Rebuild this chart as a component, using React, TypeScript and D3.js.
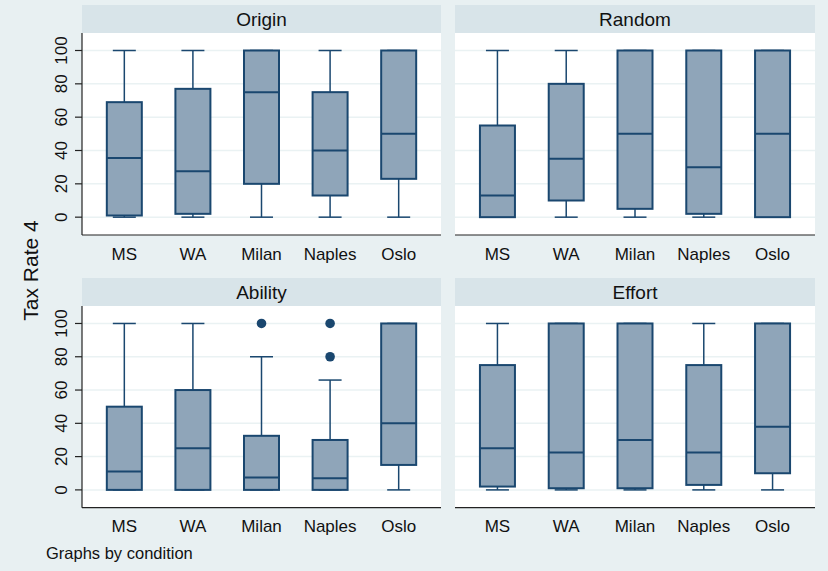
import React from "react";
import * as d3 from "d3";

const categories = ["MS", "WA", "Milan", "Naples", "Oslo"];
const panelTitles = ["Origin", "Random", "Ability", "Effort"];
const yTicks = [0, 20, 40, 60, 80, 100];

// per panel, per category: [min, q1, median, q3, max]
const originStats = [
  [0, 1, 35.5, 69, 100],
  [0, 2, 27.5, 77, 100],
  [0, 20, 75, 100, 100],
  [0, 13, 40, 75, 100],
  [0, 23, 50, 100, 100],
];
const randomStats = [
  [0, 0, 13, 55, 100],
  [0, 10, 35, 80, 100],
  [0, 5, 50, 100, 100],
  [0, 2, 30, 100, 100],
  [0, 0, 50, 100, 100],
];
const abilityStats = [
  [0, 0, 11, 50, 100],
  [0, 0, 25, 60, 100],
  [0, 0, 7.5, 32.5, 80],
  [0, 0, 7, 30, 66],
  [0, 15, 40, 100, 100],
];
const effortStats = [
  [0, 2, 25, 75, 100],
  [0, 1, 22.5, 100, 100],
  [0, 1, 30, 100, 100],
  [0, 3, 22.5, 75, 100],
  [0, 10, 38, 100, 100],
];
const originOutliers: number[][] = [[], [], [], [], []];
const randomOutliers: number[][] = [[], [], [], [], []];
const abilityOutliers: number[][] = [[], [], [100], [100, 80], []];
const effortOutliers: number[][] = [[], [], [], [], []];

const allStats = [originStats, randomStats, abilityStats, effortStats];
const allOutliers = [originOutliers, randomOutliers, abilityOutliers, effortOutliers];

const BG = "#e8f0f2";
const STRIP = "#d8e4e9";
const FILL = "#8fa5b9";
const NAVY = "#1a476f";
const GRID = "#eaf2f3";
const FONT = "'Liberation Sans', Arial, Helvetica, sans-serif";

const colX = [[82, 441], [455, 815]];
const rowY = [[33, 235], [306, 507.7]];
const STRIP_H = 28;

function Panel({ idx }: { idx: number }) {
  const col = idx % 2;
  const row = Math.floor(idx / 2);
  const [x0, x1] = colX[col];
  const [y0, y1] = rowY[row];
  const x = d3.scalePoint<string>().domain(categories).range([x0, x1]).padding(0.617);
  const y = d3.scaleLinear().domain([-10.7, 110.5]).range([y1, y0]);
  const stats = allStats[idx];
  const outs = allOutliers[idx];
  const boxW = 35;
  const capW = 23;
  return (
    <g>
      <rect x={x0} y={y0 - STRIP_H} width={x1 - x0} height={STRIP_H} fill={STRIP} />
      <text
        x={(x0 + x1) / 2}
        y={y0 - STRIP_H / 2 + 7}
        textAnchor="middle"
        fontSize={19}
        fontFamily={FONT}
        fill="#111"
      >
        {panelTitles[idx]}
      </text>
      <rect x={x0} y={y0} width={x1 - x0} height={y1 - y0} fill="#fff" />
      {yTicks.map((t) => (
        <line key={t} x1={x0} x2={x1} y1={y(t)} y2={y(t)} stroke={GRID} strokeWidth={1.5} />
      ))}
      {categories.map((c, i) => {
        const [mn, q1, md, q3, mx] = stats[i];
        const cx = x(c)!;
        return (
          <g key={c}>
            <line x1={cx} x2={cx} y1={y(q3)} y2={y(mx)} stroke={NAVY} strokeWidth={1.5} />
            <line x1={cx} x2={cx} y1={y(q1)} y2={y(mn)} stroke={NAVY} strokeWidth={1.5} />
            <line x1={cx - capW / 2} x2={cx + capW / 2} y1={y(mx)} y2={y(mx)} stroke={NAVY} strokeWidth={1.5} />
            <line x1={cx - capW / 2} x2={cx + capW / 2} y1={y(mn)} y2={y(mn)} stroke={NAVY} strokeWidth={1.5} />
            <rect
              x={cx - boxW / 2}
              y={y(q3)}
              width={boxW}
              height={y(q1) - y(q3)}
              fill={FILL}
              stroke={NAVY}
              strokeWidth={2}
            />
            <line x1={cx - boxW / 2} x2={cx + boxW / 2} y1={y(md)} y2={y(md)} stroke={NAVY} strokeWidth={2} />
            {outs[i].map((o, k) => (
              <circle key={k} cx={cx} cy={y(o)} r={4.8} fill={NAVY} />
            ))}
            <text
              x={cx}
              y={y1 + 24.5}
              textAnchor="middle"
              fontSize={17}
              fontFamily={FONT}
              fill="#111"
            >
              {c}
            </text>
          </g>
        );
      })}
      <line x1={x0} x2={x1} y1={y1} y2={y1} stroke="#222" strokeWidth={1.2} />
      {col === 0 && (
        <g>
          <line x1={x0} x2={x0} y1={y0} y2={y1} stroke="#222" strokeWidth={1.2} />
          {yTicks.map((t) => (
            <g key={t}>
              <line x1={x0 - 7} x2={x0} y1={y(t)} y2={y(t)} stroke="#222" strokeWidth={1.2} />
              <text
                transform={`translate(66.5,${y(t)}) rotate(-90)`}
                textAnchor="middle"
                fontSize={17}
                fontFamily={FONT}
                fill="#111"
              >
                {t}
              </text>
            </g>
          ))}
        </g>
      )}
    </g>
  );
}

export default function App() {
  return (
    <svg
      width={828}
      height={571}
      style={{ position: "absolute", left: 0, top: 0, display: "block" }}
    >
      <rect x={0} y={0} width={828} height={571} fill={BG} />
      {[0, 1, 2, 3].map((i) => (
        <Panel key={i} idx={i} />
      ))}
      <text
        transform="translate(37.5,270.5) rotate(-90)"
        textAnchor="middle"
        fontSize={21}
        fontFamily={FONT}
        fill="#111"
      >
        Tax Rate 4
      </text>
      <text x={46} y={559} fontSize={16.5} fontFamily={FONT} fill="#111">
        Graphs by condition
      </text>
    </svg>
  );
}
